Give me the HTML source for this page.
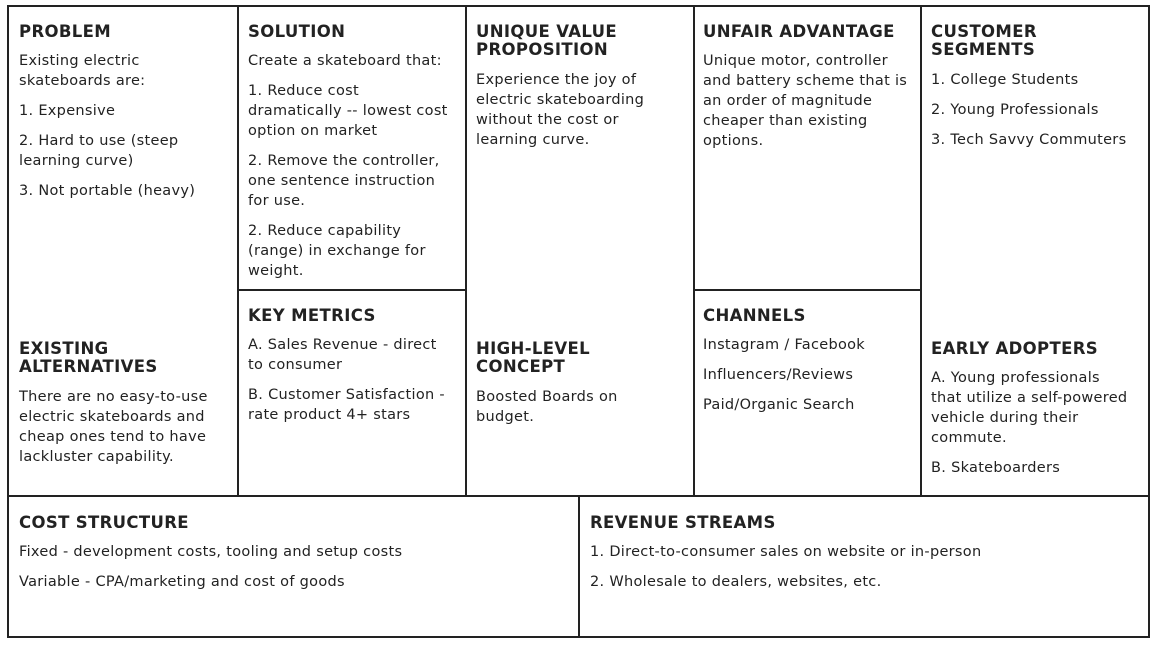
<!DOCTYPE html>
<html><head><meta charset="utf-8"><style>
*{margin:0;padding:0;box-sizing:border-box}
body{width:1156px;height:648px;background:#fff;position:relative;overflow:hidden;font-family:"DejaVu Sans","Liberation Sans",sans-serif;color:#222}
.l{position:absolute;background:#222}
.c{position:absolute;white-space:nowrap}
.c h{display:block;font-weight:bold;font-size:16.5px;letter-spacing:0.35px;line-height:18px;margin-bottom:10px;color:#222}
.c p{font-size:14.5px;letter-spacing:0.3px;line-height:20px;margin-bottom:10px}
.c h.t{margin-bottom:11px}
</style></head><body>
<div class="l" style="left:7px;top:5px;width:1143px;height:2px"></div>
<div class="l" style="left:7px;top:636px;width:1143px;height:2px"></div>
<div class="l" style="left:7px;top:5px;width:2px;height:633px"></div>
<div class="l" style="left:1148px;top:5px;width:2px;height:633px"></div>
<div class="l" style="left:237px;top:5px;width:2px;height:492px"></div>
<div class="l" style="left:465px;top:5px;width:2px;height:492px"></div>
<div class="l" style="left:693px;top:5px;width:2px;height:492px"></div>
<div class="l" style="left:920px;top:5px;width:2px;height:492px"></div>
<div class="l" style="left:237px;top:289px;width:230px;height:2px"></div>
<div class="l" style="left:693px;top:289px;width:229px;height:2px"></div>
<div class="l" style="left:7px;top:495px;width:1143px;height:2px"></div>
<div class="l" style="left:578px;top:495px;width:2px;height:143px"></div>

<div class="c" style="left:19px;top:23px"><h>PROBLEM</h><p>Existing electric<br>skateboards are:</p><p>1. Expensive</p><p>2. Hard to use (steep<br>learning curve)</p><p>3. Not portable (heavy)</p></div>
<div class="c" style="left:19px;top:340px"><h class="t">EXISTING<br>ALTERNATIVES</h><p>There are no easy-to-use<br>electric skateboards and<br>cheap ones tend to have<br>lackluster capability.</p></div>

<div class="c" style="left:248px;top:23px"><h>SOLUTION</h><p>Create a skateboard that:</p><p>1. Reduce cost<br>dramatically -- lowest cost<br>option on market</p><p>2. Remove the controller,<br>one sentence instruction<br>for use.</p><p>2. Reduce capability<br>(range) in exchange for<br>weight.</p></div>
<div class="c" style="left:248px;top:307px"><h>KEY METRICS</h><p>A. Sales Revenue - direct<br>to consumer</p><p>B. Customer Satisfaction -<br>rate product 4+ stars</p></div>

<div class="c" style="left:476px;top:23px"><h class="t">UNIQUE VALUE<br>PROPOSITION</h><p>Experience the joy of<br>electric skateboarding<br>without the cost or<br>learning curve.</p></div>
<div class="c" style="left:476px;top:340px"><h class="t">HIGH-LEVEL<br>CONCEPT</h><p>Boosted Boards on<br>budget.</p></div>

<div class="c" style="left:703px;top:23px"><h>UNFAIR ADVANTAGE</h><p>Unique motor, controller<br>and battery scheme that is<br>an order of magnitude<br>cheaper than existing<br>options.</p></div>
<div class="c" style="left:703px;top:307px"><h>CHANNELS</h><p>Instagram / Facebook</p><p>Influencers/Reviews</p><p>Paid/Organic Search</p></div>

<div class="c" style="left:931px;top:23px"><h class="t">CUSTOMER<br>SEGMENTS</h><p>1. College Students</p><p>2. Young Professionals</p><p>3. Tech Savvy Commuters</p></div>
<div class="c" style="left:931px;top:340px"><h>EARLY ADOPTERS</h><p>A. Young professionals<br>that utilize a self-powered<br>vehicle during their<br>commute.</p><p>B. Skateboarders</p></div>

<div class="c" style="left:19px;top:514px"><h>COST STRUCTURE</h><p>Fixed - development costs, tooling and setup costs</p><p>Variable - CPA/marketing and cost of goods</p></div>
<div class="c" style="left:590px;top:514px"><h>REVENUE STREAMS</h><p>1. Direct-to-consumer sales on website or in-person</p><p>2. Wholesale to dealers, websites, etc.</p></div>
</body></html>
